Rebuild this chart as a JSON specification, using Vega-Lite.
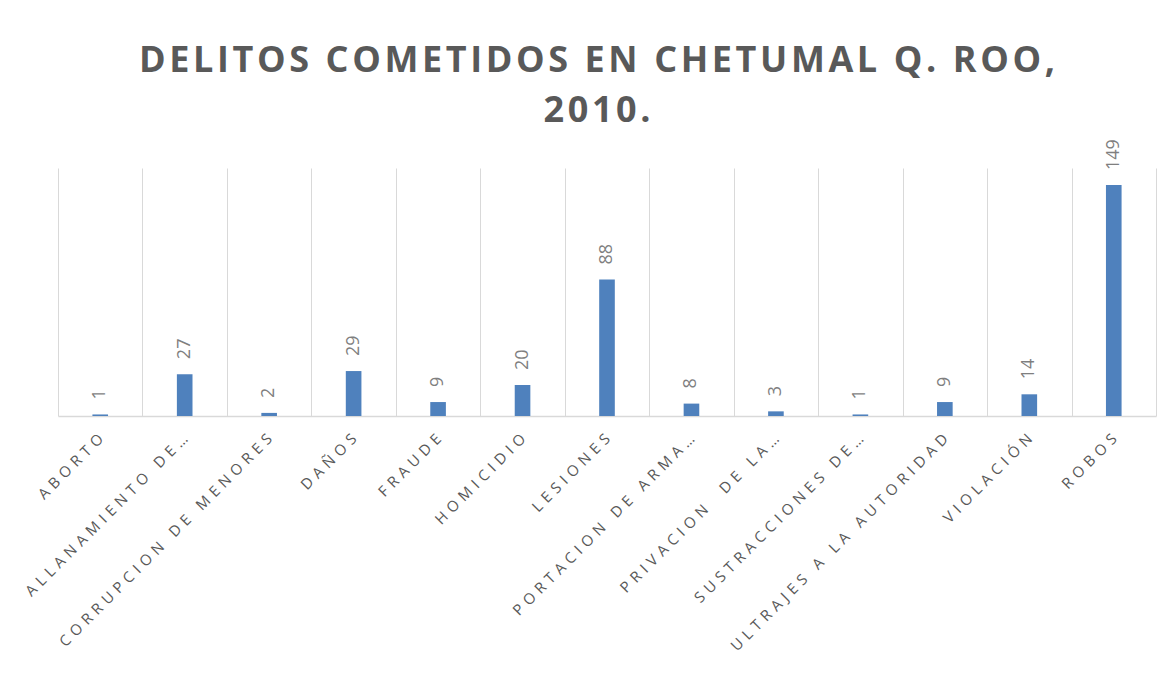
{
  "$schema": "https://vega.github.io/schema/vega-lite/v6.json",
  "autosize": "none",
  "width": 1098,
  "height": 248,
  "padding": {"left": 58, "top": 168, "right": 14, "bottom": 263},
  "background": "white",
  "title": {
    "text": {"expr": "[join(split('DELITOS COMETIDOS EN CHETUMAL Q. ROO,', ''), '\u200a'), join(split('2010.', ''), '\u200a')]"},
    "font": "Open Sans",
    "fontSize": 36,
    "fontWeight": "bold",
    "color": "#595959",
    "anchor": "middle",
    "dx": -10,
    "lineHeight": 50,
    "offset": 9
  },
  "data": {
    "values": [
      {"delito": "ABORTO", "casos": 1},
      {"delito": "ALLANAMIENTO DE…", "casos": 27},
      {"delito": "CORRUPCION DE MENORES", "casos": 2},
      {"delito": "DAÑOS", "casos": 29},
      {"delito": "FRAUDE", "casos": 9},
      {"delito": "HOMICIDIO", "casos": 20},
      {"delito": "LESIONES", "casos": 88},
      {"delito": "PORTACION DE ARMA…", "casos": 8},
      {"delito": "PRIVACION  DE LA…", "casos": 3},
      {"delito": "SUSTRACCIONES DE…", "casos": 1},
      {"delito": "ULTRAJES A LA AUTORIDAD", "casos": 9},
      {"delito": "VIOLACIÓN", "casos": 14},
      {"delito": "ROBOS", "casos": 149}
    ]
  },
  "encoding": {
    "x": {
      "field": "delito",
      "type": "nominal",
      "sort": null,
      "scale": {"paddingInner": 0, "paddingOuter": 0},
      "axis": {
        "title": null,
        "labelAngle": -45,
        "labelAlign": "right",
        "labelBaseline": "middle",
        "labelFont": "Open Sans",
        "labelFontSize": 15,
        "labelColor": "#595959",
        "labelPadding": 20,
        "labelExpr": "join(split(datum.label, ''), '\u2004')",
        "labelLimit": 0,
        "ticks": false,
        "tickBand": "extent",
        "grid": true,
        "gridColor": "#d9d9d9",
        "gridWidth": 1,
        "domainColor": "#d9d9d9",
        "domainWidth": 1.5
      }
    },
    "y": {
      "field": "casos",
      "type": "quantitative",
      "scale": {"domain": [0, 160], "nice": false},
      "axis": null
    }
  },
  "layer": [
    {
      "mark": {"type": "bar", "color": "#4f81bd", "width": {"band": 0.185}}
    },
    {
      "mark": {
        "type": "text",
        "angle": -90,
        "align": "left",
        "baseline": "middle",
        "dx": 15,
        "font": "Open Sans",
        "fontSize": 18,
        "color": "#7f7f7f"
      },
      "encoding": {"text": {"field": "casos", "type": "quantitative"}}
    }
  ],
  "config": {"view": {"stroke": null}}
}
